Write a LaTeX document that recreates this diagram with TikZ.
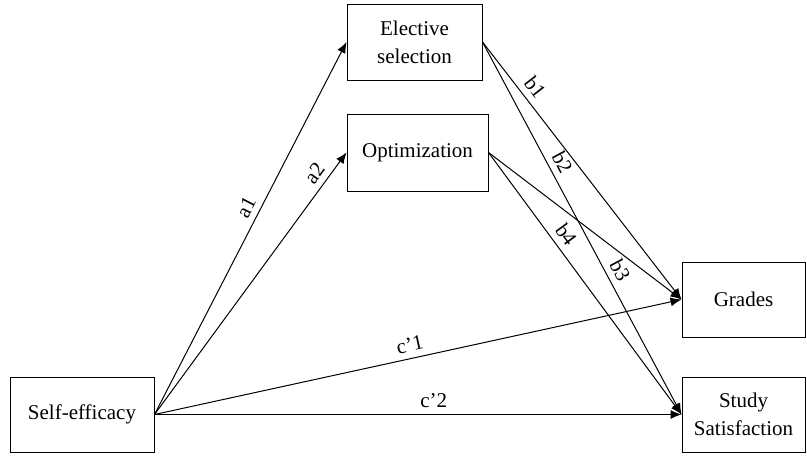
\documentclass[tikz,border=0pt]{standalone}
\usepackage{fontspec}
\setmainfont{Liberation Serif}
\usetikzlibrary{arrows.meta}

\begin{document}
\begin{tikzpicture}[x=0.5pt,y=-0.5pt,
  var/.style={draw,line width=0.5pt,align=center,inner sep=0pt,
    font=\fontsize{10.5}{14}\selectfont},
  arr/.style={line width=0.5pt,-{Latex[length=5.5pt,width=4.5pt]}},
  lab/.style={sloped,above,inner sep=3pt,font=\fontsize{10.5}{12}\selectfont}]
  \useasboundingbox (0,0) rectangle (807,455);
  % variables
  \node[var,minimum width=67.5pt,minimum height=38pt] (elect) at (414.5,42) {Elective\\selection};
  \node[var,minimum width=70.5pt,minimum height=38.5pt] (optim) at (417.5,152.5) {Optimization};
  \node[var,minimum width=72pt,minimum height=37.5pt] (self) at (82,414.5) {Self-efficacy};
  \node[var,minimum width=61.5pt,minimum height=37.5pt] (grades) at (743.5,299.5) {Grades};
  \node[var,minimum width=61.5pt,minimum height=37.5pt] (study) at (743.5,414.5) {Study\\Satisfaction};
  % a paths
  \draw[arr] (self.east) -- node[lab,pos=0.54] {a1} (elect.west);
  \draw[arr] (self.east) -- node[lab,pos=0.89] {a2} (optim.west);
  % direct paths
  \draw[arr] (self.east) -- node[lab,pos=0.49] {c'1} (grades.west);
  \draw[arr] (self.east) -- node[lab,pos=0.53] {c'2} (study.west);
  % b paths
  \draw[arr] (elect.east) -- node[lab,pos=0.21] {b1} (grades.west);
  \draw[arr] (elect.east) -- node[lab,pos=0.34] {b2} node[lab,pos=0.63] {b3} (study.west);
  \draw[arr] (optim.east) -- (grades.west);
  \draw[arr] (optim.east) -- node[lab,pos=0.345] {b4} (study.west);
\end{tikzpicture}
\end{document}
